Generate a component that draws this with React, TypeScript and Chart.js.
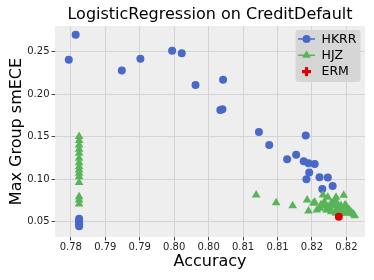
import React, { useEffect, useRef } from 'react';
import { Chart, registerables } from 'chart.js';

Chart.register(...registerables);

const titleText = 'LogisticRegression on CreditDefault';
const xTitle = 'Accuracy';
const yTitle = 'Max Group smECE';

const xTickValues = [0.78, 0.785, 0.79, 0.795, 0.8, 0.805, 0.81, 0.815, 0.82];
const xTickLabels = ['0.78', '0.79', '0.79', '0.80', '0.80', '0.81', '0.81', '0.82', '0.82'];
const yTickValues = [0.05, 0.1, 0.15, 0.2, 0.25];
const yTickLabels = ['0.05', '0.10', '0.15', '0.20', '0.25'];

const hkrrAccuracy = [
  0.7807, 0.7797, 0.7874, 0.7901, 0.7947, 0.7961, 0.7981, 0.8021, 0.8017, 0.802,
  0.8073, 0.8088, 0.8141, 0.8114, 0.8127, 0.8138, 0.8145, 0.8154, 0.8146, 0.8142,
  0.8161, 0.8173, 0.8165, 0.818, 0.7812, 0.7812, 0.7812, 0.7812, 0.7812,
];
const hkrrSmECE = [
  0.2696, 0.2402, 0.2277, 0.2414, 0.2508, 0.2481, 0.2108, 0.2167, 0.1814, 0.1822,
  0.1555, 0.1402, 0.1512, 0.1234, 0.1288, 0.1211, 0.1187, 0.1179, 0.1077, 0.0999,
  0.1022, 0.1018, 0.0885, 0.092, 0.0535, 0.0515, 0.0495, 0.047, 0.0445,
];

const hjzAccuracy = [
  0.7812, 0.7812, 0.7812, 0.7812, 0.7812, 0.7812, 0.7812, 0.7812, 0.7812, 0.7812,
  0.7812, 0.7812, 0.7812, 0.7812, 0.7812,
  0.8069, 0.8098, 0.8122, 0.8143, 0.8145, 0.8154, 0.8162, 0.8166, 0.8173, 0.8185,
  0.8196, 0.8168, 0.8175, 0.8183, 0.8198, 0.8202, 0.8205, 0.8171, 0.8178, 0.819,
  0.8152, 0.8157, 0.8183, 0.818, 0.8188, 0.817, 0.8193, 0.8185, 0.8208,
  0.8168, 0.8172, 0.8178, 0.8182, 0.8187, 0.8192, 0.8196, 0.82, 0.8204, 0.821,
  0.8207, 0.8198, 0.8192, 0.8175, 0.8163, 0.8186, 0.8212,
];
const hjzSmECE = [
  0.15, 0.1453, 0.1402, 0.1352, 0.1305, 0.1246, 0.1194, 0.1147, 0.1108, 0.1069,
  0.1029, 0.0962, 0.0794, 0.0755, 0.0708,
  0.0814, 0.0724, 0.0688, 0.0755, 0.0626, 0.0728, 0.0658, 0.0814, 0.0787, 0.0787,
  0.0811, 0.0735, 0.0676, 0.0755, 0.0696, 0.0638, 0.0618, 0.0638, 0.0618, 0.0638,
  0.0716, 0.0638, 0.0618, 0.07, 0.068, 0.069, 0.066, 0.06, 0.06,
  0.07, 0.066, 0.072, 0.069, 0.071, 0.069, 0.065, 0.068, 0.064, 0.059,
  0.061, 0.06, 0.06, 0.064, 0.07, 0.065, 0.057,
];

const ermAccuracy = [0.8189];
const ermSmECE = [0.0559];

const BLUE = '#4a68c8';
const GREEN = '#58b458';
const RED = '#dd0000';
const FONT = "'DejaVu Sans', sans-serif";

const toPoints = (xs: number[], ys: number[]) => xs.map((x, i) => ({ x, y: ys[i] }));

const bgPlugin = {
  id: 'plotBg',
  beforeDraw(chart: any) {
    const { ctx, chartArea: a } = chart;
    ctx.save();
    ctx.fillStyle = '#eeeeee';
    ctx.fillRect(a.left, a.top, a.right - a.left, a.bottom - a.top);
    ctx.restore();
  },
};

const legendPlugin = {
  id: 'customLegend',
  afterDraw(chart: any) {
    const { ctx, chartArea: a } = chart;
    const w = 65;
    const h = 52;
    const x0 = a.right - 4.5 - w;
    const y0 = a.top + 4;
    ctx.save();
    ctx.fillStyle = 'rgba(212,212,212,0.95)';
    ctx.beginPath();
    (ctx as any).roundRect(x0, y0, w, h, 3);
    ctx.fill();
    const items = [
      { label: 'HKRR', color: BLUE, style: 'circle', line: true },
      { label: 'HJZ', color: GREEN, style: 'triangle', line: true },
      { label: 'ERM', color: RED, style: 'plus', line: false },
    ];
    items.forEach((it, i) => {
      const cy = y0 + 9 + i * 16.3;
      const cx = x0 + 11;
      if (it.line) {
        ctx.strokeStyle = it.color;
        ctx.lineWidth = 1.5;
        ctx.beginPath();
        ctx.moveTo(x0 + 2.5, cy);
        ctx.lineTo(x0 + 19.5, cy);
        ctx.stroke();
      }
      ctx.fillStyle = it.color;
      ctx.beginPath();
      if (it.style === 'circle') {
        ctx.arc(cx, cy, 4, 0, Math.PI * 2);
        ctx.fill();
      } else if (it.style === 'triangle') {
        const r = 5;
        ctx.moveTo(cx, cy - r);
        ctx.lineTo(cx + r * 0.866, cy + r * 0.5);
        ctx.lineTo(cx - r * 0.866, cy + r * 0.5);
        ctx.closePath();
        ctx.fill();
      } else {
        ctx.fillRect(cx - 4.5, cy - 1.6, 9, 3.2);
        ctx.fillRect(cx - 1.6, cy - 4.5, 3.2, 9);
      }
      ctx.fillStyle = '#000';
      ctx.font = `12.5px ${FONT}`;
      ctx.textBaseline = 'middle';
      ctx.textAlign = 'left';
      ctx.fillText(it.label, x0 + 26, cy + 0.5);
    });
    ctx.restore();
  },
};

export default function App() {
  const ref = useRef<HTMLCanvasElement>(null);

  useEffect(() => {
    if (!ref.current) return;
    const chart = new Chart(ref.current, {
      type: 'scatter',
      data: {
        datasets: [
          {
            label: 'HKRR',
            data: toPoints(hkrrAccuracy, hkrrSmECE),
            backgroundColor: BLUE,
            borderColor: BLUE,
            borderWidth: 0,
            pointStyle: 'circle',
            pointRadius: 4,
            order: 2,
          },
          {
            label: 'HJZ',
            data: toPoints(hjzAccuracy, hjzSmECE),
            backgroundColor: GREEN,
            borderColor: GREEN,
            borderWidth: 0,
            pointStyle: 'triangle',
            pointRadius: 5,
            order: 1,
          },
          {
            label: 'ERM',
            data: toPoints(ermAccuracy, ermSmECE),
            backgroundColor: RED,
            borderColor: RED,
            borderWidth: 0,
            pointStyle: 'circle',
            pointRadius: 4,
            order: 0,
          },
        ],
      },
      options: {
        animation: false,
        responsive: false,
        devicePixelRatio: 1,
        layout: { padding: { left: 0, right: 9, top: 0, bottom: 0 } },
        plugins: {
          legend: { display: false },
          tooltip: { enabled: false },
          title: {
            display: true,
            text: titleText,
            fullSize: false,
            color: '#000',
            font: { family: FONT, size: 16, weight: 'normal' },
            padding: { top: 5, bottom: 1.8 },
          },
        },
        scales: {
          x: {
            type: 'linear',
            min: 0.7777,
            max: 0.8227,
            afterFit: (s: any) => {
              s.height = 43;
            },
            afterBuildTicks: (s: any) => {
              s.ticks = xTickValues.map((v) => ({ value: v }));
            },
            ticks: {
              autoSkip: false,
              maxRotation: 0,
              padding: 1,
              color: '#222',
              font: { family: FONT, size: 10 },
              callback: (_v: any, i: number) => xTickLabels[i],
            },
            grid: { color: '#d4d4d4', tickColor: '#444', tickLength: 3.5, lineWidth: 1 },
            border: { display: false },
            title: {
              display: true,
              text: xTitle,
              color: '#000',
              font: { family: FONT, size: 16 },
              padding: { top: 0, bottom: 8.4 },
            },
          },
          y: {
            type: 'linear',
            min: 0.032,
            max: 0.28,
            afterFit: (s: any) => {
              s.width = 55;
            },
            afterBuildTicks: (s: any) => {
              s.ticks = yTickValues.map((v) => ({ value: v }));
            },
            ticks: {
              autoSkip: false,
              padding: 2,
              color: '#222',
              font: { family: FONT, size: 10 },
              callback: (_v: any, i: number) => yTickLabels[i],
            },
            grid: { color: '#d4d4d4', tickColor: '#444', tickLength: 3.5, lineWidth: 1 },
            border: { display: false },
            title: {
              display: true,
              text: yTitle,
              color: '#000',
              font: { family: FONT, size: 16 },
              padding: { top: 7.4, bottom: 0 },
            },
          },
        },
      },
      plugins: [bgPlugin, legendPlugin],
    } as any);
    return () => chart.destroy();
  }, []);

  return (
    <div style={{ position: 'absolute', left: 0, top: 0, width: 374, height: 280, background: '#fff' }}>
      <canvas ref={ref} width={374} height={280} style={{ display: 'block' }} />
    </div>
  );
}
